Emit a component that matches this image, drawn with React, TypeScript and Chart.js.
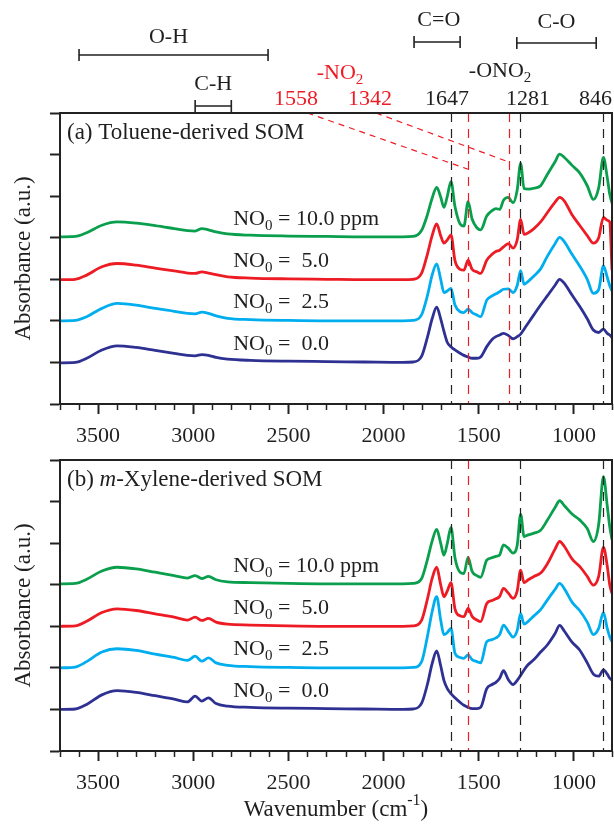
import React, { useEffect, useRef } from 'react';
import { Chart, registerables } from 'chart.js';

Chart.register(...registerables);

const FONT = '"Liberation Serif", "Times New Roman", serif';
const INK = '#1f1f1f';
const RED = '#ee1c25';
const FS = 22;
const FS_LABEL = 23;

// Wavenumber grid (cm-1), shared by all spectra
const WAVENUMBERS = [3700, 3620, 3560, 3480, 3400, 3300, 3200, 3100, 3030, 2990,
  2955, 2920, 2880, 2820, 2700, 2500, 2300, 2100, 1900, 1845,
  1800, 1770, 1745, 1721, 1700, 1683, 1665, 1646, 1625, 1598,
  1578, 1556, 1535, 1510, 1490, 1458, 1430, 1410, 1390, 1370,
  1345, 1320, 1298, 1280, 1262, 1240, 1210, 1175, 1140, 1100,
  1075, 1050, 1010, 970, 930, 898, 870, 845, 825, 812, 800];

// (a) Toluene-derived SOM, stacked absorbance (a.u.)
const TOL_10 = [4.02, 4.03, 4.12, 4.30, 4.38, 4.35, 4.29, 4.22, 4.17, 4.16,
  4.22, 4.19, 4.14, 4.09, 4.06, 4.04, 4.03, 4.02, 4.02, 4.03,
  4.18, 4.55, 4.95, 5.21, 4.98, 4.73, 5.00, 5.35, 4.75, 4.33,
  4.28, 4.87, 4.45, 4.24, 4.19, 4.52, 4.65, 4.70, 4.68, 4.90,
  4.97, 4.84, 5.15, 5.79, 5.18, 5.17, 5.19, 5.25, 5.52, 5.82,
  6.01, 5.93, 5.74, 5.56, 5.25, 4.92, 5.20, 5.93, 5.45, 5.05, 4.83];
const TOL_5 = [2.99, 3.00, 3.10, 3.30, 3.38, 3.34, 3.27, 3.20, 3.15, 3.14,
  3.18, 3.15, 3.11, 3.06, 3.03, 3.01, 3.00, 2.99, 2.99, 3.00,
  3.15, 3.60, 4.05, 4.33, 4.05, 3.87, 3.95, 4.07, 3.45, 3.24,
  3.22, 3.46, 3.24, 3.18, 3.14, 3.46, 3.60, 3.67, 3.70, 3.78,
  3.86, 3.75, 3.95, 4.44, 4.08, 4.12, 4.22, 4.38, 4.60, 4.85,
  4.97, 4.88, 4.55, 4.30, 4.05, 3.87, 4.00, 4.49, 4.42, 4.38, 3.22];
const TOL_2_5 = [2.00, 2.01, 2.10, 2.30, 2.42, 2.38, 2.30, 2.23, 2.18, 2.17,
  2.21, 2.18, 2.12, 2.06, 2.03, 2.01, 2.00, 2.00, 2.00, 2.01,
  2.15, 2.60, 3.10, 3.37, 3.00, 2.68, 2.72, 2.78, 2.38, 2.22,
  2.20, 2.28, 2.20, 2.14, 2.10, 2.50, 2.60, 2.65, 2.70, 2.76,
  2.77, 2.68, 2.85, 3.21, 2.88, 2.95, 3.08, 3.25, 3.55, 3.85,
  4.01, 3.90, 3.60, 3.32, 3.00, 2.66, 2.75, 3.32, 3.05, 2.85, 2.72];
const TOL_0 = [0.99, 1.00, 1.10, 1.30, 1.40, 1.36, 1.29, 1.22, 1.17, 1.16,
  1.19, 1.17, 1.12, 1.08, 1.05, 1.03, 1.02, 1.01, 1.00, 1.01,
  1.15, 1.60, 2.05, 2.33, 2.05, 1.75, 1.48, 1.38, 1.30, 1.22,
  1.17, 1.13, 1.10, 1.10, 1.13, 1.38, 1.55, 1.62, 1.66, 1.70,
  1.65, 1.57, 1.62, 1.68, 1.80, 1.95, 2.15, 2.38, 2.60, 2.85,
  3.00, 2.90, 2.62, 2.35, 2.05, 1.78, 1.72, 1.80, 1.70, 1.66, 1.60];

// (b) m-Xylene-derived SOM
const XYL_10 = [4.02, 4.03, 4.13, 4.33, 4.42, 4.38, 4.30, 4.22, 4.16, 4.22,
  4.15, 4.20, 4.12, 4.07, 4.05, 4.03, 4.02, 4.02, 4.02, 4.03,
  4.15, 4.60, 5.05, 5.33, 5.00, 4.71, 5.00, 5.38, 4.65, 4.30,
  4.27, 4.66, 4.32, 4.22, 4.18, 4.59, 4.65, 4.68, 4.72, 4.96,
  4.88, 4.76, 4.95, 5.70, 5.16, 5.20, 5.24, 5.31, 5.55, 5.85,
  6.02, 5.90, 5.70, 5.56, 5.35, 5.04, 5.45, 6.60, 5.90, 5.40, 5.08];
const XYL_5 = [3.00, 3.01, 3.12, 3.33, 3.42, 3.38, 3.30, 3.22, 3.15, 3.22,
  3.14, 3.19, 3.10, 3.05, 3.03, 3.01, 3.00, 3.00, 3.00, 3.01,
  3.15, 3.65, 4.15, 4.42, 4.00, 3.71, 3.85, 4.05, 3.42, 3.25,
  3.23, 3.43, 3.24, 3.15, 3.11, 3.55, 3.62, 3.66, 3.72, 3.91,
  3.80, 3.67, 3.85, 4.35, 4.05, 4.12, 4.20, 4.28, 4.50, 4.85,
  5.04, 4.92, 4.62, 4.44, 4.20, 3.99, 4.20, 4.90, 4.45, 4.00, 3.79];
const XYL_2_5 = [2.00, 2.02, 2.15, 2.38, 2.46, 2.42, 2.33, 2.25, 2.18, 2.28,
  2.16, 2.24, 2.12, 2.06, 2.03, 2.01, 2.00, 2.00, 2.00, 2.01,
  2.15, 2.75, 3.35, 3.71, 3.15, 2.80, 2.85, 2.95, 2.35, 2.25,
  2.23, 2.31, 2.20, 2.15, 2.12, 2.63, 2.68, 2.72, 2.80, 3.03,
  2.88, 2.74, 2.90, 3.31, 3.05, 3.12, 3.25, 3.40, 3.63, 3.88,
  4.03, 3.90, 3.58, 3.38, 3.10, 2.80, 2.95, 3.33, 2.95, 2.75, 2.63];
const XYL_0 = [1.00, 1.01, 1.12, 1.35, 1.45, 1.41, 1.33, 1.25, 1.18, 1.32,
  1.20, 1.28, 1.14, 1.08, 1.05, 1.03, 1.02, 1.01, 1.00, 1.01,
  1.15, 1.60, 2.10, 2.41, 2.05, 1.70, 1.50, 1.38, 1.28, 1.17,
  1.10, 1.05, 1.02, 1.02, 1.05, 1.50, 1.60, 1.65, 1.75, 1.93,
  1.72, 1.60, 1.70, 1.82, 1.95, 2.08, 2.20, 2.38, 2.55, 2.82,
  3.02, 2.88, 2.62, 2.43, 2.12, 1.85, 1.80, 1.95, 1.85, 1.75, 1.70];

const NO_LEVELS = ['=\u00a0 0.0', '=\u00a0 2.5', '=\u00a0 5.0', '= 10.0 ppm'];
const SERIES_BASELINES = [1, 2, 3, 4];
const SERIES_COLORS = ['#2e3192', '#00aeef', '#ed1c24', '#0a9f4c'];
const X_TICK_LABELS = [3500, 3000, 2500, 2000, 1500, 1000];
const X_MIN = 800;
const X_MAX = 3700;
const Y_MAX = 7;

const PEAK_LINES_A = [
  { w: 1647, red: false }, { w: 1558, red: true }, { w: 1342, red: true },
  { w: 1281, red: false }, { w: 846, red: false },
];
const PEAK_LINES_B = [
  { w: 1647, red: false }, { w: 1558, red: true }, { w: 1281, red: false }, { w: 846, red: false },
];

type Part = { t: string; sub?: boolean; sup?: boolean; italic?: boolean };

function drawRich(ctx: CanvasRenderingContext2D, parts: Part[], x: number, y: number,
  align: 'left' | 'center', color: string, size = FS) {
  const fonts = parts.map(p => `${p.italic ? 'italic ' : ''}${p.sub || p.sup ? Math.round(size * 0.68) : size}px ${FONT}`);
  const widths = parts.map((p, i) => { ctx.font = fonts[i]; return ctx.measureText(p.t).width; });
  const total = widths.reduce((a, b) => a + b, 0);
  let cx = align === 'center' ? x - total / 2 : x;
  ctx.textBaseline = 'middle';
  ctx.textAlign = 'left';
  ctx.fillStyle = color;
  parts.forEach((p, i) => {
    ctx.font = fonts[i];
    const dy = p.sub ? size * 0.3 : p.sup ? -size * 0.38 : 0;
    ctx.fillText(p.t, cx, y + dy);
    cx += widths[i];
  });
}

type PanelCfg = {
  series: number[][];
  lines: { w: number; red: boolean }[];
  label: Part[];
  labelY: number;
  top: number;
  height: number;
  padTop: number;
  axisH: number;
  header: boolean;
  footer: boolean;
};

function makePlugin(cfg: PanelCfg) {
  return {
    id: 'panelDecor',
    afterDatasetsDraw(chart: any) {
      const { ctx, chartArea: ca, scales } = chart;
      const x = scales.x, y = scales.y;
      ctx.save();
      ctx.lineWidth = 1.2;
      ctx.setLineDash([9, 7]);
      cfg.lines.forEach(l => {
        const px = Math.round(x.getPixelForValue(l.w)) + 0.5;
        ctx.strokeStyle = l.red ? RED : '#222';
        ctx.beginPath();
        ctx.moveTo(px, ca.top);
        ctx.lineTo(px, ca.bottom);
        ctx.stroke();
      });
      if (cfg.header) {
        ctx.strokeStyle = RED;
        ctx.setLineDash([6, 5]);
        const diag = [[2400, Y_MAX, 1558, 5.65], [2040, Y_MAX, 1342, 5.82]];
        diag.forEach(d => {
          ctx.beginPath();
          ctx.moveTo(x.getPixelForValue(d[0]), y.getPixelForValue(d[1]));
          ctx.lineTo(x.getPixelForValue(d[2]), y.getPixelForValue(d[3]));
          ctx.stroke();
        });
      }
      ctx.restore();
    },
    afterDraw(chart: any) {
      const { ctx, chartArea: ca, scales } = chart;
      const x = scales.x, y = scales.y;
      ctx.save();
      // frame
      ctx.strokeStyle = '#222';
      ctx.lineWidth = 2;
      ctx.strokeRect(ca.left, ca.top, ca.right - ca.left, ca.bottom - ca.top);
      // minor ticks
      ctx.lineWidth = 1.5;
      for (let w = X_MAX; w >= X_MIN; w -= 100) {
        if (w % 500 === 0) continue;
        const px = Math.round(x.getPixelForValue(w)) + 0.5;
        ctx.beginPath();
        ctx.moveTo(px, ca.bottom);
        ctx.lineTo(px, ca.bottom + 6);
        ctx.stroke();
      }
      // panel label
      drawRich(ctx, cfg.label, ca.left + 7, cfg.labelY - cfg.top, 'left', INK, FS_LABEL);
      // series labels
      NO_LEVELS.forEach((lv, i) => {
        drawRich(ctx, [{ t: 'NO' }, { t: '0', sub: true }, { t: ' ' + lv }],
          x.getPixelForValue(2790), y.getPixelForValue(SERIES_BASELINES[i] + 0.44), 'left', INK);
      });
      if (cfg.header) {
        const brackets = [
          { a: 3600, b: 2607, by: 55, t: 'O-H', tw: 3130, ty: 37 },
          { a: 2990, b: 2800, by: 106, t: 'C-H', tw: 2895, ty: 84 },
          { a: 1840, b: 1598, by: 42, t: 'C=O', tw: 1710, ty: 20 },
          { a: 1300, b: 883, by: 43, t: 'C-O', tw: 1092, ty: 22 },
        ];
        ctx.strokeStyle = '#222';
        ctx.lineWidth = 1.6;
        brackets.forEach(b => {
          const x1 = x.getPixelForValue(b.a), x2 = x.getPixelForValue(b.b);
          ctx.beginPath();
          ctx.moveTo(x1, b.by); ctx.lineTo(x2, b.by);
          ctx.moveTo(x1, b.by - 6); ctx.lineTo(x1, b.by + 6);
          ctx.moveTo(x2, b.by - 6); ctx.lineTo(x2, b.by + 6);
          ctx.stroke();
          drawRich(ctx, [{ t: b.t }], x.getPixelForValue(b.tw), b.ty, 'center', INK);
        });
        drawRich(ctx, [{ t: '-NO' }, { t: '2', sub: true }], x.getPixelForValue(2229), 73, 'center', RED);
        drawRich(ctx, [{ t: '-ONO' }, { t: '2', sub: true }], x.getPixelForValue(1388), 71, 'center', INK);
        const peaks = [
          { t: '1558', w: 2460, red: true }, { t: '1342', w: 2071, red: true },
          { t: '1647', w: 1667, red: false }, { t: '1281', w: 1241, red: false },
          { t: '846', w: 887, red: false },
        ];
        peaks.forEach(p => drawRich(ctx, [{ t: p.t }], x.getPixelForValue(p.w), 99, 'center', p.red ? RED : INK));
      }
      if (cfg.footer) {
        drawRich(ctx, [{ t: 'Wavenumber (cm' }, { t: '-1', sup: true }, { t: ')' }],
          (ca.left + ca.right) / 2, 810 - cfg.top, 'center', INK, FS_LABEL);
      }
      ctx.restore();
    },
  };
}

function Panel({ cfg }: { cfg: PanelCfg }) {
  const ref = useRef<HTMLCanvasElement | null>(null);
  useEffect(() => {
    const canvas = ref.current;
    if (!canvas) return;
    const datasets = cfg.series.map((vals, i) => ({
      data: WAVENUMBERS.map((w, j) => ({ x: w, y: vals[j] })),
      borderColor: SERIES_COLORS[i],
      borderWidth: 2.8,
      pointRadius: 0,
      fill: false,
      cubicInterpolationMode: 'monotone' as const,
    }));
    const chart = new Chart(canvas, {
      type: 'line',
      data: { datasets },
      options: {
        animation: false,
        responsive: false,
        maintainAspectRatio: false,
        layout: { padding: { top: cfg.padTop, left: 0, right: 2, bottom: 0 } },
        plugins: { legend: { display: false }, tooltip: { enabled: false } },
        scales: {
          x: {
            type: 'linear',
            min: X_MIN,
            max: X_MAX,
            reverse: true,
            afterBuildTicks: (s: any) => { s.ticks = X_TICK_LABELS.map(v => ({ value: v })); },
            afterFit: (s: any) => { s.height = cfg.axisH; },
            ticks: {
              callback: (v: any) => String(v),
              font: { family: FONT, size: FS },
              color: INK,
              padding: 9,
              maxRotation: 0,
              autoSkip: false,
            },
            grid: { display: true, drawOnChartArea: false, drawTicks: true, tickLength: 10, tickWidth: 2, tickColor: '#222' },
            border: { display: true, width: 2, color: '#222' },
          },
          y: {
            type: 'linear',
            min: 0,
            max: Y_MAX,
            afterFit: (s: any) => { s.width = 60; },
            ticks: { stepSize: 1, display: false },
            grid: { display: true, drawOnChartArea: false, drawTicks: true, tickLength: 10, tickWidth: 2, tickColor: '#222' },
            border: { display: true, width: 2, color: '#222' },
            title: {
              display: true,
              text: 'Absorbance (a.u.)',
              font: { family: FONT, size: FS_LABEL },
              color: INK,
              padding: { top: 10, bottom: 0 },
            },
          },
        },
      },
      plugins: [makePlugin(cfg)],
    } as any);
    return () => chart.destroy();
  }, []);
  return (
    <canvas
      ref={ref}
      width={614}
      height={cfg.height}
      style={{ position: 'absolute', left: 0, top: cfg.top, width: 614, height: cfg.height }}
    />
  );
}

const PANEL_A: PanelCfg = {
  series: [TOL_0, TOL_2_5, TOL_5, TOL_10],
  lines: PEAK_LINES_A,
  label: [{ t: '(a) Toluene-derived SOM' }],
  labelY: 133,
  top: 0,
  height: 450,
  padTop: 113,
  axisH: 46,
  header: true,
  footer: false,
};

const PANEL_B: PanelCfg = {
  series: [XYL_0, XYL_2_5, XYL_5, XYL_10],
  lines: PEAK_LINES_B,
  label: [{ t: '(b) ' }, { t: 'm', italic: true }, { t: '-Xylene-derived SOM' }],
  labelY: 480,
  top: 450,
  height: 375,
  padTop: 10,
  axisH: 74,
  header: false,
  footer: true,
};

export default function App() {
  return (
    <div style={{ position: 'absolute', left: 0, top: 0, width: 614, height: 825, background: '#fff', overflow: 'hidden' }}>
      <Panel cfg={PANEL_A} />
      <Panel cfg={PANEL_B} />
    </div>
  );
}
